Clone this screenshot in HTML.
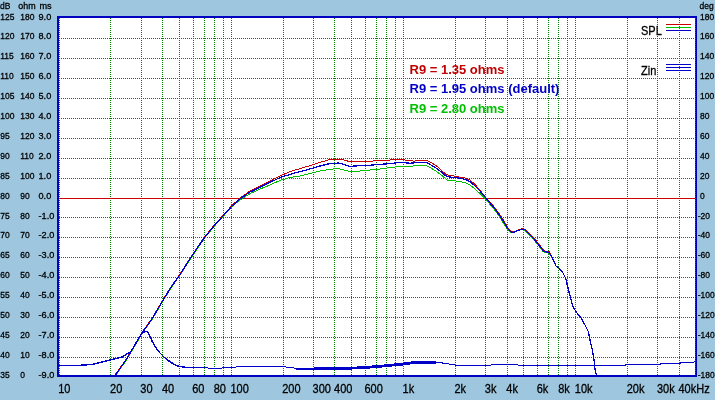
<!DOCTYPE html>
<html lang="en"><head><meta charset="utf-8"><title>Frequency response</title>
<style>html,body{margin:0;padding:0;background:#9ec6de;}body{width:715px;height:400px;overflow:hidden;}svg{display:block;}text{font-family:"Liberation Sans",Arial,sans-serif;fill:#000;}.x,.y{stroke:#000;stroke-width:0.3px;}.y{font-size:9.7px;}.x{font-size:12.5px;}.b{font-size:13px;font-weight:bold;}</style></head><body>
<svg width="715" height="400" viewBox="0 0 715 400">
<rect x="0" y="0" width="715" height="400" fill="#9ec6de"/>
<g shape-rendering="crispEdges">
<rect x="57" y="16" width="640" height="361" fill="#0000c0"/>
<rect x="59" y="18" width="636" height="357" fill="#fff"/>
<g stroke="#008000" stroke-width="1" stroke-dasharray="1 1" fill="none">
<line x1="59.5" y1="18" x2="59.5" y2="375"/>
<line x1="110.5" y1="18" x2="110.5" y2="375"/>
<line x1="141.5" y1="18" x2="141.5" y2="375"/>
<line x1="162.5" y1="18" x2="162.5" y2="375"/>
<line x1="179.5" y1="18" x2="179.5" y2="375"/>
<line x1="193.5" y1="18" x2="193.5" y2="375"/>
<line x1="204.5" y1="18" x2="204.5" y2="375"/>
<line x1="214.5" y1="18" x2="214.5" y2="375"/>
<line x1="223.5" y1="18" x2="223.5" y2="375"/>
<line x1="231.5" y1="18" x2="231.5" y2="375"/>
<line x1="283.5" y1="18" x2="283.5" y2="375"/>
<line x1="313.5" y1="18" x2="313.5" y2="375"/>
<line x1="334.5" y1="18" x2="334.5" y2="375"/>
<line x1="351.5" y1="18" x2="351.5" y2="375"/>
<line x1="365.5" y1="18" x2="365.5" y2="375"/>
<line x1="376.5" y1="18" x2="376.5" y2="375"/>
<line x1="386.5" y1="18" x2="386.5" y2="375"/>
<line x1="395.5" y1="18" x2="395.5" y2="375"/>
<line x1="403.5" y1="18" x2="403.5" y2="375"/>
<line x1="455.5" y1="18" x2="455.5" y2="375"/>
<line x1="485.5" y1="18" x2="485.5" y2="375"/>
<line x1="507.5" y1="18" x2="507.5" y2="375"/>
<line x1="523.5" y1="18" x2="523.5" y2="375"/>
<line x1="537.5" y1="18" x2="537.5" y2="375"/>
<line x1="548.5" y1="18" x2="548.5" y2="375"/>
<line x1="558.5" y1="18" x2="558.5" y2="375"/>
<line x1="567.5" y1="18" x2="567.5" y2="375"/>
<line x1="575.5" y1="18" x2="575.5" y2="375"/>
<line x1="627.5" y1="18" x2="627.5" y2="375"/>
<line x1="657.5" y1="18" x2="657.5" y2="375"/>
<line x1="679.5" y1="18" x2="679.5" y2="375"/>
<line x1="695.5" y1="18" x2="695.5" y2="375"/>
<line x1="59" y1="38.5" x2="695" y2="38.5"/>
<line x1="59" y1="58.5" x2="695" y2="58.5"/>
<line x1="59" y1="78.5" x2="695" y2="78.5"/>
<line x1="59" y1="98.5" x2="695" y2="98.5"/>
<line x1="59" y1="118.5" x2="695" y2="118.5"/>
<line x1="59" y1="138.5" x2="695" y2="138.5"/>
<line x1="59" y1="158.5" x2="695" y2="158.5"/>
<line x1="59" y1="178.5" x2="695" y2="178.5"/>
<line x1="59" y1="198.5" x2="695" y2="198.5"/>
<line x1="59" y1="217.5" x2="695" y2="217.5"/>
<line x1="59" y1="237.5" x2="695" y2="237.5"/>
<line x1="59" y1="257.5" x2="695" y2="257.5"/>
<line x1="59" y1="277.5" x2="695" y2="277.5"/>
<line x1="59" y1="297.5" x2="695" y2="297.5"/>
<line x1="59" y1="317.5" x2="695" y2="317.5"/>
<line x1="59" y1="337.5" x2="695" y2="337.5"/>
<line x1="59" y1="357.5" x2="695" y2="357.5"/>
</g>
<rect x="59" y="198" width="636" height="1" fill="#cc0000"/>
</g>
<g shape-rendering="crispEdges">
<polyline points="114.7,375.5 125.7,359.9 131.7,349.9 141.7,332.9 151.7,318.9 161.7,301.9 169.7,288.9 180.7,272.9 189.7,258.9 198.4,245.8 204.7,236.8 213.7,225.8 222.7,215.8 231.7,205.8 240.0,198.0 250.0,191.0 260.0,186.0 270.0,181.0 280.0,176.0 290.0,171.6 300.0,168.6 310.0,165.6 320.0,162.4 328.0,160.0 338.0,159.0 344.0,160.0 351.0,162.0 360.0,161.2 370.0,161.2 380.0,160.6 390.0,160.0 400.0,159.6 410.0,160.4 414.0,161.2 420.0,160.0 426.0,160.0 430.0,162.0 436.0,165.4 442.0,171.0 446.0,174.4 450.0,175.4 456.0,176.4 462.0,177.6 465.0,178.0 470.0,180.0 475.0,184.4 480.0,190.4 485.0,196.6 490.5,202.6 495.5,208.6 500.5,215.6 505.5,223.6 508.5,228.6 511.5,231.6 514.5,232.0 518.5,230.0 522.5,228.6 525.5,229.6 529.5,233.6 534.5,238.6 538.5,243.6 544.5,251.2 549.5,252.0 552.0,257.0 556.0,266.0 559.0,268.0 563.0,273.0 566.0,279.0 567.0,284.0 569.0,292.0 571.0,299.0 571.5,302.3 573.6,307.6 576.8,312.8 581.0,318.0 585.2,325.4 588.3,331.7 590.0,340.0 592.5,350.6 594.2,361.0 595.0,369.5 596.3,375.0" fill="none" stroke="#cc0000" stroke-width="1" stroke-linejoin="round" />
<polyline points="115.3,375.8 126.3,360.1 132.3,350.1 142.3,333.1 152.3,319.1 162.3,302.1 170.3,289.1 181.3,273.1 190.3,259.1 199.0,246.2 205.3,237.2 214.3,226.2 223.3,216.2 232.3,206.2 240.0,200.0 250.0,193.6 260.0,189.0 270.0,185.0 280.0,180.4 290.0,177.4 300.0,176.0 310.0,173.4 320.0,171.0 328.0,169.6 338.0,168.4 344.0,170.0 349.0,171.4 360.0,171.0 370.0,170.0 380.0,169.0 390.0,167.6 400.0,166.4 410.0,166.4 420.0,165.2 426.0,165.4 430.0,167.6 436.0,171.0 442.0,175.6 447.0,180.0 454.0,180.6 462.0,182.0 465.0,182.4 470.0,185.0 475.0,189.0 480.0,193.6 485.0,198.4 489.4,203.6 494.4,209.6 499.4,216.6 504.4,224.6 507.4,229.6 510.5,232.4 513.5,232.8 517.5,230.8 521.5,229.4 524.5,230.4 528.5,234.4 533.5,239.4 537.5,244.4 543.5,252.0 548.5,252.8 552.0,257.0 556.0,266.0 559.0,268.0 563.0,273.0 566.0,279.0 567.0,284.0 569.0,292.0 571.0,299.0 571.5,302.3 573.6,307.6 576.8,312.8 581.0,318.0 585.2,325.4 588.3,331.7 590.0,340.0 592.5,350.6 594.2,361.0 595.0,369.5 596.3,375.0" fill="none" stroke="#00c000" stroke-width="1" stroke-linejoin="round" />
<polyline points="115.0,375.6 126.0,360.0 132.0,350.0 142.0,333.0 152.0,319.0 162.0,302.0 170.0,289.0 181.0,273.0 190.0,259.0 198.7,246.0 205.0,237.0 214.0,226.0 223.0,216.0 232.0,206.0 240.0,199.0 250.0,192.0 260.0,187.4 270.0,182.4 280.0,177.6 290.0,174.4 300.0,171.6 310.0,169.0 320.0,166.0 328.0,164.0 338.0,163.0 344.0,164.4 350.0,166.4 360.0,165.6 370.0,165.2 380.0,164.4 390.0,163.6 400.0,162.4 410.0,163.2 420.0,162.4 426.0,162.4 430.0,164.4 436.0,168.0 442.0,172.6 446.0,176.0 450.0,177.0 456.0,177.6 462.0,178.6 465.0,179.6 470.0,181.4 475.0,186.0 480.0,191.0 485.0,197.0 490.0,203.0 495.0,209.0 500.0,216.0 505.0,224.0 508.0,229.0 511.0,232.0 514.0,232.4 518.0,230.4 522.0,229.0 525.0,230.0 529.0,234.0 534.0,239.0 538.0,244.0 544.0,251.6 549.0,252.4 552.0,257.0 556.0,266.0 559.0,268.0 563.0,273.0 566.0,279.0 567.0,284.0 569.0,292.0 571.0,299.0 571.5,302.3 573.6,307.6 576.8,312.8 581.0,318.0 585.2,325.4 588.3,331.7 590.0,340.0 592.5,350.6 594.2,361.0 595.0,369.5 596.3,375.0" fill="none" stroke="#0000c8" stroke-width="1.25" stroke-linejoin="round" />
<polyline points="59.0,365.5 76.0,365.5 92.0,364.5 110.4,360.0 122.0,357.0 131.0,351.6 136.0,343.0 140.0,336.0 144.0,332.0 147.0,331.4 149.0,334.0 152.0,341.0 156.0,348.0 160.0,353.0 166.0,359.0 172.0,363.0 177.6,366.0 187.6,367.7 220.0,368.2 230.0,367.2 245.6,366.7 257.0,366.2 278.0,366.2 288.0,367.2 296.0,368.2 313.6,368.5 340.0,368.5 360.0,367.7 378.0,366.4 390.0,365.2 403.0,364.0 415.6,362.2 435.7,362.2 445.8,363.4 458.4,365.5 483.6,365.5 498.7,364.5 515.0,364.5 521.0,365.5 540.0,365.5 625.0,365.5 626.0,364.5 660.0,364.5 661.0,363.5 680.0,363.5 681.0,362.5 693.0,362.5 695.0,361.5" fill="none" stroke="#0000c8" stroke-width="1" stroke-linejoin="round" />
<polyline points="59.0,365.5 76.0,365.5 92.0,364.5 110.4,360.0 122.0,357.0 131.0,351.6 136.0,343.0 140.0,336.0 144.0,332.0 147.0,331.4 149.0,334.0 152.0,341.0 156.0,348.0 160.0,353.0 166.0,359.0 172.0,363.0 177.6,366.0 187.6,367.7" fill="none" stroke="#0000c8" stroke-width="1.4" stroke-linejoin="round" />
<polyline points="296.0,369.2 313.6,369.5 340.0,369.5 360.0,368.7 378.0,367.4 390.0,366.2 403.0,365.0 415.6,363.2 435.7,363.2" fill="none" stroke="#0000c8" stroke-width="1" stroke-linejoin="round" />
<polyline points="313.6,367.7 340.0,367.7 360.0,366.9 378.0,365.6 390.0,364.4 403.0,363.2 415.6,361.4 435.7,361.4" fill="none" stroke="#0000c8" stroke-width="1" stroke-linejoin="round" />
</g>
<g shape-rendering="crispEdges">
<rect x="666" y="24" width="25" height="1" fill="#cc0000"/>
<rect x="666" y="27" width="25" height="1" fill="#00c000"/>
<rect x="666" y="30" width="25" height="1" fill="#0000c8"/>
<rect x="666" y="64" width="25" height="1" fill="#0000c8"/>
<rect x="666" y="67" width="25" height="1" fill="#0000c8"/>
<rect x="666" y="70" width="25" height="1" fill="#0000c8"/>
</g>
<text class="x" transform="translate(641.00,35.00) scale(0.880,1)">SPL</text>
<text class="x" transform="translate(641.10,75.00) scale(0.880,1)">Zin</text>
<text class="b" x="409.50" y="74.00" fill="#c00000" style="fill:#c00000">R9 = 1.35 ohms</text>
<text class="b" x="409.50" y="93.00" fill="#0000c8" style="fill:#0000c8">R9 = 1.95 ohms (default)</text>
<text class="b" x="409.50" y="112.50" fill="#00c000" style="fill:#00c000">R9 = 2.80 ohms</text>
<text class="y" transform="translate(0.00,9.00) scale(0.875,1)">dB</text>
<text class="y" transform="translate(18.30,9.00) scale(0.920,1)">ohm</text>
<text class="y" transform="translate(39.50,9.00) scale(0.940,1)">ms</text>
<text class="y" transform="translate(699.60,9.00) scale(0.875,1)">deg</text>
<text class="y" transform="translate(0.20,19.90) scale(0.875,1)">125</text>
<text class="y" transform="translate(20.20,19.90) scale(0.875,1)">180</text>
<text class="y" transform="translate(38.50,19.90) scale(0.945,1)">9.0</text>
<text class="y" transform="translate(700.00,19.90) scale(0.875,1)">180</text>
<text class="y" transform="translate(0.20,39.04) scale(0.875,1)">120</text>
<text class="y" transform="translate(20.20,39.04) scale(0.875,1)">170</text>
<text class="y" transform="translate(38.50,39.04) scale(0.945,1)">8.0</text>
<text class="y" transform="translate(700.00,39.04) scale(0.875,1)">160</text>
<text class="y" transform="translate(0.20,58.98) scale(0.875,1)">115</text>
<text class="y" transform="translate(20.20,58.98) scale(0.875,1)">160</text>
<text class="y" transform="translate(38.50,58.98) scale(0.945,1)">7.0</text>
<text class="y" transform="translate(700.00,58.98) scale(0.875,1)">140</text>
<text class="y" transform="translate(0.20,78.92) scale(0.875,1)">110</text>
<text class="y" transform="translate(20.20,78.92) scale(0.875,1)">150</text>
<text class="y" transform="translate(38.50,78.92) scale(0.945,1)">6.0</text>
<text class="y" transform="translate(700.00,78.92) scale(0.875,1)">120</text>
<text class="y" transform="translate(0.20,98.86) scale(0.875,1)">105</text>
<text class="y" transform="translate(20.20,98.86) scale(0.875,1)">140</text>
<text class="y" transform="translate(38.50,98.86) scale(0.945,1)">5.0</text>
<text class="y" transform="translate(700.00,98.86) scale(0.875,1)">100</text>
<text class="y" transform="translate(0.20,118.80) scale(0.875,1)">100</text>
<text class="y" transform="translate(20.20,118.80) scale(0.875,1)">130</text>
<text class="y" transform="translate(38.50,118.80) scale(0.945,1)">4.0</text>
<text class="y" transform="translate(700.00,118.80) scale(0.875,1)">80</text>
<text class="y" transform="translate(0.20,138.74) scale(0.875,1)">95</text>
<text class="y" transform="translate(20.20,138.74) scale(0.875,1)">120</text>
<text class="y" transform="translate(38.50,138.74) scale(0.945,1)">3.0</text>
<text class="y" transform="translate(700.00,138.74) scale(0.875,1)">60</text>
<text class="y" transform="translate(0.20,158.68) scale(0.875,1)">90</text>
<text class="y" transform="translate(20.20,158.68) scale(0.875,1)">110</text>
<text class="y" transform="translate(38.50,158.68) scale(0.945,1)">2.0</text>
<text class="y" transform="translate(700.00,158.68) scale(0.875,1)">40</text>
<text class="y" transform="translate(0.20,178.62) scale(0.875,1)">85</text>
<text class="y" transform="translate(20.20,178.62) scale(0.875,1)">100</text>
<text class="y" transform="translate(38.50,178.62) scale(0.945,1)">1.0</text>
<text class="y" transform="translate(700.00,178.62) scale(0.875,1)">20</text>
<text class="y" transform="translate(0.20,198.56) scale(0.875,1)">80</text>
<text class="y" transform="translate(20.20,198.56) scale(0.875,1)">90</text>
<text class="y" transform="translate(38.50,198.56) scale(0.945,1)">0.0</text>
<text class="y" transform="translate(700.00,198.56) scale(0.875,1)">0</text>
<text class="y" transform="translate(0.20,218.50) scale(0.875,1)">75</text>
<text class="y" transform="translate(20.20,218.50) scale(0.875,1)">80</text>
<text class="y" transform="translate(38.50,218.50) scale(0.945,1)">-1.0</text>
<text class="y" transform="translate(697.80,218.50) scale(0.875,1)">-20</text>
<text class="y" transform="translate(0.20,238.44) scale(0.875,1)">70</text>
<text class="y" transform="translate(20.20,238.44) scale(0.875,1)">70</text>
<text class="y" transform="translate(38.50,238.44) scale(0.945,1)">-2.0</text>
<text class="y" transform="translate(697.80,238.44) scale(0.875,1)">-40</text>
<text class="y" transform="translate(0.20,258.38) scale(0.875,1)">65</text>
<text class="y" transform="translate(20.20,258.38) scale(0.875,1)">60</text>
<text class="y" transform="translate(38.50,258.38) scale(0.945,1)">-3.0</text>
<text class="y" transform="translate(697.80,258.38) scale(0.875,1)">-60</text>
<text class="y" transform="translate(0.20,278.32) scale(0.875,1)">60</text>
<text class="y" transform="translate(20.20,278.32) scale(0.875,1)">50</text>
<text class="y" transform="translate(38.50,278.32) scale(0.945,1)">-4.0</text>
<text class="y" transform="translate(697.80,278.32) scale(0.875,1)">-80</text>
<text class="y" transform="translate(0.20,298.26) scale(0.875,1)">55</text>
<text class="y" transform="translate(20.20,298.26) scale(0.875,1)">40</text>
<text class="y" transform="translate(38.50,298.26) scale(0.945,1)">-5.0</text>
<text class="y" transform="translate(697.80,298.26) scale(0.875,1)">-100</text>
<text class="y" transform="translate(0.20,318.20) scale(0.875,1)">50</text>
<text class="y" transform="translate(20.20,318.20) scale(0.875,1)">30</text>
<text class="y" transform="translate(38.50,318.20) scale(0.945,1)">-6.0</text>
<text class="y" transform="translate(697.80,318.20) scale(0.875,1)">-120</text>
<text class="y" transform="translate(0.20,338.14) scale(0.875,1)">45</text>
<text class="y" transform="translate(20.20,338.14) scale(0.875,1)">20</text>
<text class="y" transform="translate(38.50,338.14) scale(0.945,1)">-7.0</text>
<text class="y" transform="translate(697.80,338.14) scale(0.875,1)">-140</text>
<text class="y" transform="translate(0.20,358.08) scale(0.875,1)">40</text>
<text class="y" transform="translate(20.20,358.08) scale(0.875,1)">10</text>
<text class="y" transform="translate(38.50,358.08) scale(0.945,1)">-8.0</text>
<text class="y" transform="translate(697.80,358.08) scale(0.875,1)">-160</text>
<text class="y" transform="translate(0.20,378.02) scale(0.875,1)">35</text>
<text class="y" transform="translate(20.20,378.02) scale(0.875,1)">0</text>
<text class="y" transform="translate(38.50,378.02) scale(0.945,1)">-9.0</text>
<text class="y" transform="translate(697.80,378.02) scale(0.875,1)">-180</text>
<text class="x" transform="translate(58.20,392.60) scale(0.880,1)">10</text>
<text class="x" transform="translate(110.04,392.60) scale(0.880,1)">20</text>
<text class="x" transform="translate(140.37,392.60) scale(0.880,1)">30</text>
<text class="x" transform="translate(161.88,392.60) scale(0.880,1)">40</text>
<text class="x" transform="translate(192.21,392.60) scale(0.880,1)">60</text>
<text class="x" transform="translate(213.72,392.60) scale(0.880,1)">80</text>
<text class="x" transform="translate(230.41,392.60) scale(0.880,1)">100</text>
<text class="x" transform="translate(282.25,392.60) scale(0.880,1)">200</text>
<text class="x" transform="translate(312.58,392.60) scale(0.880,1)">300</text>
<text class="x" transform="translate(334.09,392.60) scale(0.880,1)">400</text>
<text class="x" transform="translate(364.42,392.60) scale(0.880,1)">600</text>
<text class="x" transform="translate(402.62,392.60) scale(0.880,1)">1k</text>
<text class="x" transform="translate(454.46,392.60) scale(0.880,1)">2k</text>
<text class="x" transform="translate(484.79,392.60) scale(0.880,1)">3k</text>
<text class="x" transform="translate(506.30,392.60) scale(0.880,1)">4k</text>
<text class="x" transform="translate(536.63,392.60) scale(0.880,1)">6k</text>
<text class="x" transform="translate(558.14,392.60) scale(0.880,1)">8k</text>
<text class="x" transform="translate(574.83,392.60) scale(0.880,1)">10k</text>
<text class="x" transform="translate(626.67,392.60) scale(0.880,1)">20k</text>
<text class="x" transform="translate(657.00,392.60) scale(0.880,1)">30k</text>
<text class="x" transform="translate(678.51,392.60) scale(0.880,1)">40kHz</text>
</svg></body></html>
